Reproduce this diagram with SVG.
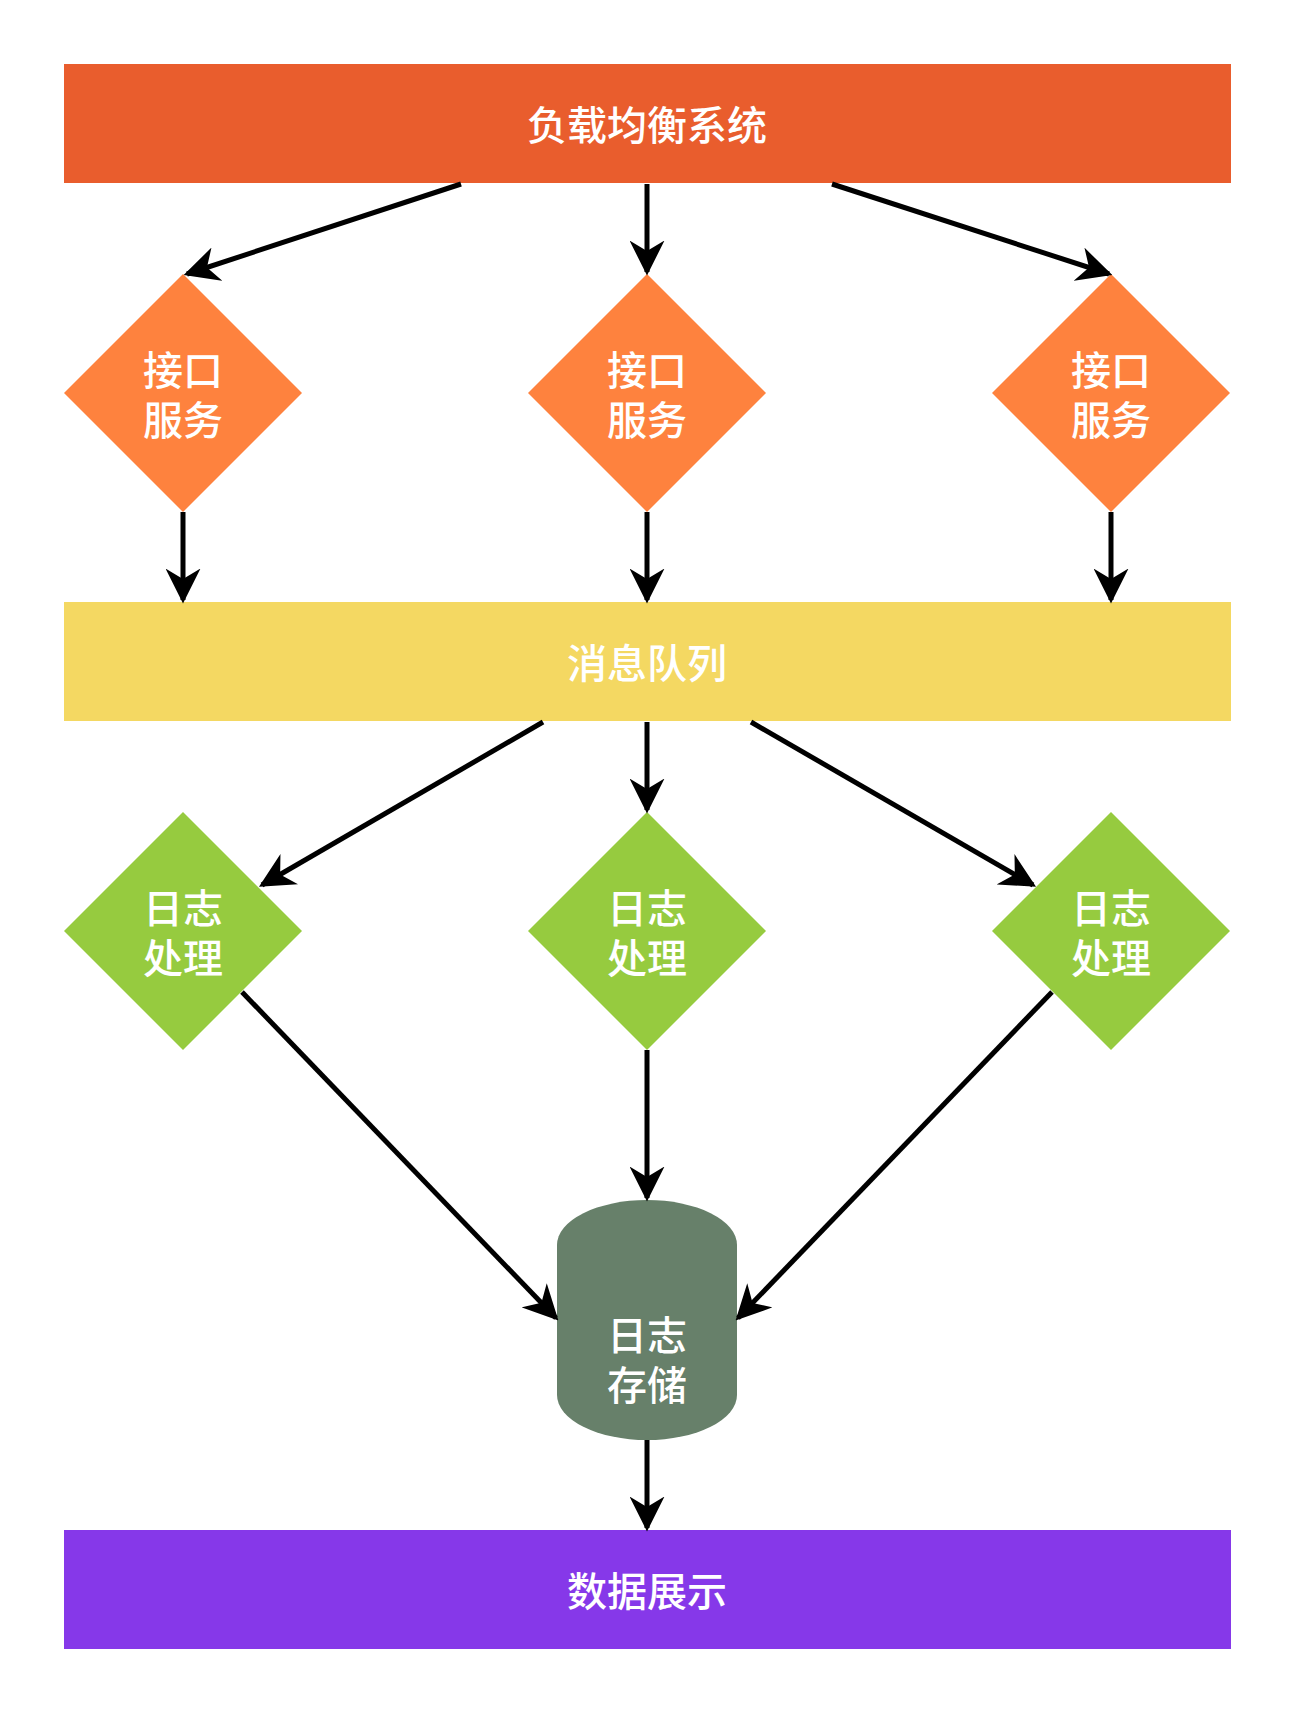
<svg xmlns="http://www.w3.org/2000/svg" width="1296" height="1716" viewBox="0 0 1296 1716">
<style>
text{font-family:"Noto Sans CJK SC","Noto Sans",sans-serif;font-size:40px;font-weight:500;fill:#fff;text-anchor:middle;dominant-baseline:central}
.c{stroke:#000;stroke-width:5;fill:none;marker-end:url(#a)}
</style>
<defs><marker id="a" viewBox="0 0 10 10" refX="9" refY="5" markerWidth="7" markerHeight="7" orient="auto" markerUnits="strokeWidth"><path d="M0,0L10,5L0,10L3,5z" fill="#000"/></marker></defs>
<rect width="1296" height="1716" fill="#fff"/>
<g id="lb"><rect x="64" y="64" width="1167" height="119" fill="#E95D2D"/><text x="647" y="123">负载均衡系统</text></g>
<g id="api1"><path d="M183,274L302,393L183,512L64,393z" fill="#FE823E"/><text x="183" y="368">接口</text><text x="183" y="418">服务</text></g>
<g id="api2"><path d="M647,274L766,393L647,512L528,393z" fill="#FE823E"/><text x="647" y="368">接口</text><text x="647" y="418">服务</text></g>
<g id="api3"><path d="M1111,274L1230,393L1111,512L992,393z" fill="#FE823E"/><text x="1111" y="368">接口</text><text x="1111" y="418">服务</text></g>
<g id="mq"><rect x="64" y="602" width="1167" height="119" fill="#F4D862"/><text x="647" y="661">消息队列</text></g>
<g id="log1"><path d="M183,812L302,931L183,1050L64,931z" fill="#96CB3F"/><text x="183" y="906">日志</text><text x="183" y="956">处理</text></g>
<g id="log2"><path d="M647,812L766,931L647,1050L528,931z" fill="#96CB3F"/><text x="647" y="906">日志</text><text x="647" y="956">处理</text></g>
<g id="log3"><path d="M1111,812L1230,931L1111,1050L992,931z" fill="#96CB3F"/><text x="1111" y="906">日志</text><text x="1111" y="956">处理</text></g>
<g id="store"><path d="M557,1245A90,45 0 0 1 737,1245L737,1395A90,45 0 0 1 557,1395z" fill="#67806A"/><text x="647" y="1333">日志</text><text x="647" y="1383">存储</text></g>
<g id="view"><rect x="64" y="1530" width="1167" height="119" fill="#8638E9"/><text x="647" y="1589">数据展示</text></g>
<g id="connectors">
<path class="c" d="M461,184L187,274"/>
<path class="c" d="M647,184L647,272"/>
<path class="c" d="M832,184L1109,274"/>
<path class="c" d="M183,512L183,600"/>
<path class="c" d="M647,512L647,600"/>
<path class="c" d="M1111,512L1111,600"/>
<path class="c" d="M543,722L262,885"/>
<path class="c" d="M647,722L647,810"/>
<path class="c" d="M751,722L1033,885"/>
<path class="c" d="M242,992L556,1318"/>
<path class="c" d="M647,1050L647,1198"/>
<path class="c" d="M1052,992L738,1318"/>
<path class="c" d="M647,1440L647,1528"/>
</g>
</svg>
